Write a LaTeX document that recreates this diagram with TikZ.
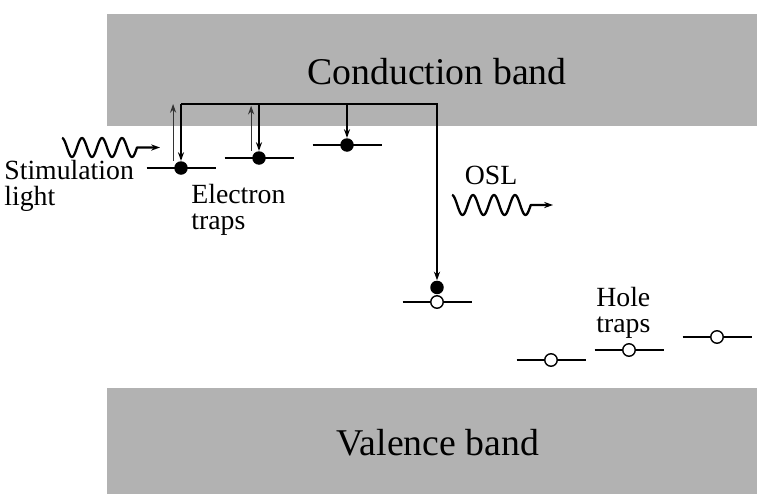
\documentclass[tikz,border=0pt]{standalone}
\usepackage{fontspec}
\setmainfont{Liberation Serif}
\usetikzlibrary{arrows.meta,positioning}

\begin{document}
\begin{tikzpicture}[x=0.02cm, y=-0.02cm,
    band/.style={fill=gray!60, draw=none, inner sep=0pt},
    bandtxt/.style={anchor=base, inner sep=0pt, font=\fontsize{21.5}{24}\selectfont},
    lbl/.style={anchor=north west, align=left, inner sep=0pt,
      font=\fontsize{15.8}{14.5}\selectfont},
    elec/.style={circle, fill=black, inner sep=0pt, minimum size=0.27cm},
    hole/.style={circle, draw=black, fill=white, line width=0.8pt,
      inner sep=0pt, minimum size=0.25cm},
    lvl/.style={line width=1.3pt},
    arr/.style={-{Stealth[length=5pt,width=3.5pt]}, line width=0.7pt},
    uarr/.style={-{Stealth[length=5pt,width=3.5pt]}, line width=0.6pt, black!80},
    wave/.style={-{Stealth[length=5pt,width=3.5pt]}, line width=1.3pt,
      line join=round}
]
\useasboundingbox (0,0) rectangle (757,494);

% --- Bandas ---
\fill[band] (107,14) rectangle (757,126);
\fill[band] (107,388) rectangle (757,494);
\node[bandtxt] (cbtxt) at (437,84) {Conduction band};
\node[bandtxt] (vbtxt) at (438,455) {Valence band};

% --- Niveles ---
\coordinate (l1) at (181,168);
\coordinate (l2) at (259,158);
\coordinate (l3) at (347,145);
\coordinate (l0) at (437,302);
\coordinate (k1) at (551,360);
\coordinate (k2) at (629,350);
\coordinate (k3) at (717,337);
\foreach \l in {l1,l2,l3,l0,k1,k2,k3}
  \draw[lvl] ([xshift=-19.5pt]\l) -- ([xshift=19.8pt]\l);

% --- Trampas de electrones ---
\node[elec] (d1) at (l1) {};
\node[elec] (d2) at (l2) {};
\node[elec] (d3) at (l3) {};

% --- Trampa profunda (recombinacion) ---
\node[hole] (h0) at (l0) {};
\node[elec, above=0.01cm of h0] (d4) {};

% --- Trampas de huecos ---
\node[hole] (h1) at (k1) {};
\node[hole] (h2) at (k2) {};
\node[hole] (h3) at (k3) {};

% --- Transiciones ---
\coordinate (top) at (181,104);
\draw[arr] (top) -| (d4.north);
\draw[arr] (d1.north |- top) -- (d1.north);
\draw[arr] (d2.north |- top) -- (d2.north);
\draw[arr] (d3.north |- top) -- (d3.north);
\draw[uarr] ([xshift=-4.5pt]d1.north) -- ([xshift=-4.5pt]d1.north |- top);
\draw[uarr] ([xshift=-4.5pt]d2.north) -- ([xshift=-4.5pt,yshift=-1pt]d2.north |- top);

% --- Luz ---
\coordinate (sl1) at (160,147.5);
\draw[wave] plot[domain=0:3.75, samples=90]
  ({62+\x*20}, {147.5-9.5*cos(360*\x)}) -- (sl1);
\coordinate (osl1) at (553,205);
\draw[wave] plot[domain=0:3.75, samples=90]
  ({452+\x*21}, {205-10*cos(360*\x)}) -- (osl1);

% --- Etiquetas ---
\node[lbl] (stim) at (4,160) {Stimulation\\light};
\node[lbl] (etraps) at (191,184) {Electron\\traps};
\node[lbl] (htraps) at (596,287) {Hole\\traps};
\node[lbl, anchor=base] (osl) at (491,184) {OSL};
\end{tikzpicture}
\end{document}
